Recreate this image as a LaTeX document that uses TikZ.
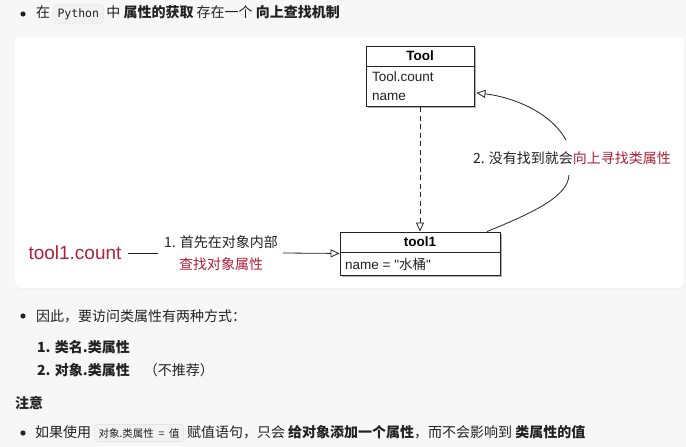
\documentclass[tikz,border=0pt]{standalone}
\usepackage{fontspec}
\setmainfont{Liberation Sans}
\newfontfamily\qfont{Liberation Sans}
\newfontfamily\cjk{Noto Sans CJK SC}
\newfontfamily\codefont{DejaVu Sans Mono}
\usetikzlibrary{arrows.meta,calc}
\definecolor{pagebg}{HTML}{F7F7F7}
\definecolor{accent}{HTML}{B0203A}
\definecolor{codebg}{HTML}{F2F2F2}
\definecolor{codeline}{HTML}{DDDDDD}
\definecolor{ink}{HTML}{222222}
\newcommand{\codechip}[1]{\tikz[baseline=(cc.base)]\node[fill=codebg,draw=codeline,rounded corners=2.5pt,inner xsep=4pt,inner ysep=3.5pt](cc){#1};}
\tikzset{
  umlbox/.style={draw=ink, line width=0.9pt, fill=white, inner sep=0pt},
  shade/.style={fill=black!30},
  conn/.style={draw=ink, line width=0.8pt},
  opentip/.style={-{Triangle[open,length=9pt,width=8pt]}},
  body/.style={font=\cjk\fontsize{14}{17}\selectfont, text=ink, inner sep=0pt},
  diag/.style={font=\fontsize{13.5}{16}\selectfont, text=ink, inner sep=0pt},
  bulletdot/.style={fill=ink, draw=none}
}
\begin{document}
\begin{tikzpicture}[x=1pt,y=-1pt]
\fill[pagebg] (0,0) rectangle (686,447);
\useasboundingbox (0,0) rectangle (686,447);
% card
\fill[black!6, rounded corners=5pt] (15,38) rectangle (685,289);
\fill[white, rounded corners=5pt] (15,37) rectangle (684,288);

% top line
\fill[bulletdot] (23,14) circle (2.6);
\node[body, anchor=west] (topline) at (36,14) {在 \codechip{\codefont\fontsize{11.5}{13}\selectfont Python} 中 \textbf{属性的获取} 存在一个 \textbf{向上查找机制}};

% Tool class
\fill[shade] (368,48) rectangle (476,108);
\node[umlbox, minimum width=108pt, minimum height=20pt, font=\bfseries\fontsize{13.5}{16}\selectfont] (toolH) at (420,56) {Tool};
\node[umlbox, minimum width=108pt, minimum height=40pt, anchor=north] (toolB) at (toolH.south) {};
\node[diag, anchor=west] (tcount) at (372,77) {Tool.count};
\node[diag, anchor=west] (tname) at (372,97) {name};

% tool1 object
\fill[shade] (342,234) rectangle (502,277);
\node[umlbox, minimum width=160pt, minimum height=20pt, font=\bfseries\fontsize{13.5}{16}\selectfont] (objH) at (420,242) {tool1};
\node[umlbox, minimum width=160pt, minimum height=23pt, anchor=north] (objB) at (objH.south) {};
\node[diag, anchor=west] (oname) at (345,264) {name = {\qfont"}{\cjk 水桶}{\qfont"}};

% dashed arrow
\draw[conn, dash pattern=on 5pt off 3.5pt, opentip] (toolB.south) -- (objH.north);

% curved arrow with label
\node[body] (lab2) at (572,158) {2. 没有找到就会{\color{accent}向上寻找类属性}};
\coordinate (c1) at ($(objH.north)+(67,0)$);
\coordinate (c2) at (569,175);
\coordinate (c3) at (566,140);
\coordinate (c4) at ($(toolB.east)+(2,6)$);
\draw[conn] (c1) .. controls (535,212) and (568,196) .. (c2);
\draw[conn, opentip] (c3) .. controls (548,108) and (505,96) .. (c4);

% left side
\node[font=\fontsize{19}{22}\selectfont, text=accent, inner sep=0pt] (tc1) at (75,253) {tool1.count};
\node[body, align=center] (lab1) at (221,253) {1. 首先在对象内部\\[5pt]{\color{accent}查找对象属性}};
\coordinate (a1) at (128,253);
\coordinate (a2) at (158,253);
\coordinate (a3) at (283,253);
\coordinate (a4) at ($(objH.south west)+(0,1)$);
\draw[conn] (a1) -- (a2);
\draw[conn, opentip] (a3) -- (a4);

% lower text
\fill[bulletdot] (23,316) circle (2.6);
\node[body, anchor=west] (since) at (36,316) {因此，要访问类属性有两种方式：};
\node[body, anchor=west] (item1) at (37,347) {\textbf{1. 类名.类属性}};
\node[body, anchor=west] (item2) at (37,370) {\textbf{2. 对象.类属性}\quad （不推荐）};
\node[body, anchor=west] (note) at (15,403) {\textbf{注意}};
\fill[bulletdot] (23,433) circle (2.6);
\node[body, anchor=west] (last) at (35,433) {如果使用 \codechip{\fontsize{10.5}{12}\selectfont 对象.类属性\ \ =\ \ 值} 赋值语句，只会 \textbf{给对象添加一个属性}，而不会影响到 \textbf{类属性的值}};
\end{tikzpicture}
\end{document}
